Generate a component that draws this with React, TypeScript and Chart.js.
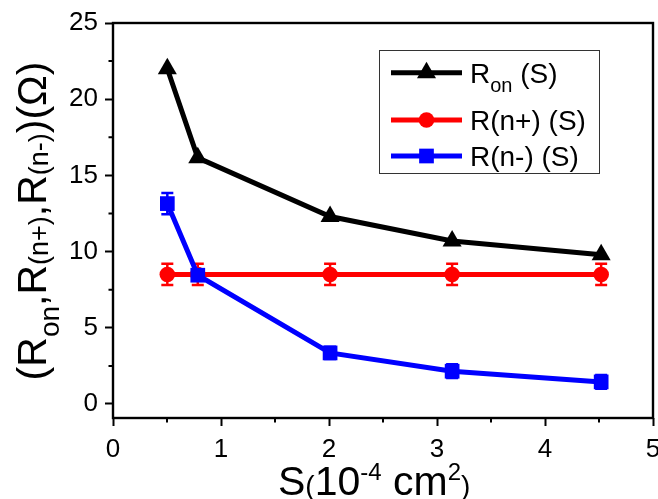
import React, { useEffect, useRef } from "react";
import { Chart, registerables } from "chart.js";

Chart.register(...registerables);

// ---- data ----
const areaValues = [0.503, 0.785, 2.01, 3.14, 4.52];
const ronValues = [22.0, 16.15, 12.3, 10.7, 9.8];
const rnPlusValues = [8.5, 8.5, 8.5, 8.5, 8.5];
const rnPlusErrors = [0.7, 0.7, 0.7, 0.7, 0.7];
const rnMinusValues = [13.15, 8.45, 3.35, 2.15, 1.45];
const rnMinusErrors = [0.7, 0.3, 0.4, 0.45, 0.45];
const xTickValues = [0, 1, 2, 3, 4, 5];
const yTickValues = [0, 5, 10, 15, 20, 25];
const xMinorTickValues = [0.5, 1.5, 2.5, 3.5, 4.5];
const yMinorTickValues = [2.5, 7.5, 12.5, 17.5, 22.5];
const seriesColors = ["#000000", "#ff0000", "#0000ff"];

const FONT = "'Liberation Sans', Arial, sans-serif";

function drawMarker(ctx: CanvasRenderingContext2D, style: string, x: number, y: number, r: number, color: string) {
  ctx.save();
  ctx.fillStyle = color;
  ctx.beginPath();
  if (style === "triangle") {
    let rad = 0;
    ctx.moveTo(x + Math.sin(rad) * r, y - Math.cos(rad) * r);
    rad += (2 * Math.PI) / 3;
    ctx.lineTo(x + Math.sin(rad) * r, y - Math.cos(rad) * r);
    rad += (2 * Math.PI) / 3;
    ctx.lineTo(x + Math.sin(rad) * r, y - Math.cos(rad) * r);
    ctx.closePath();
  } else if (style === "rect") {
    const s = Math.SQRT1_2 * r;
    ctx.rect(x - s, y - s, 2 * s, 2 * s);
  } else {
    ctx.arc(x, y, r, 0, Math.PI * 2);
  }
  ctx.fill();
  ctx.restore();
}

type Seg = { t: string; s: number; dy?: number };

function drawSegments(ctx: CanvasRenderingContext2D, segs: Seg[], x: number, y: number, center: boolean) {
  let total = 0;
  for (const sg of segs) {
    ctx.font = `${sg.s}px ${FONT}`;
    total += ctx.measureText(sg.t).width;
  }
  let cx = center ? x - total / 2 : x;
  ctx.textBaseline = "alphabetic";
  ctx.textAlign = "left";
  for (const sg of segs) {
    ctx.font = `${sg.s}px ${FONT}`;
    ctx.fillText(sg.t, cx, y + (sg.dy || 0));
    cx += ctx.measureText(sg.t).width;
  }
}

const errorBars: Record<number, number[]> = { 1: rnPlusErrors, 2: rnMinusErrors };

const customPlugin = {
  id: "custom",
  afterDatasetDraw(chart: any, args: any) {
    const errs = errorBars[args.index];
    if (!errs) return;
    const ctx = chart.ctx;
    const xs = chart.scales.x;
    const ys = chart.scales.y;
    const ds = chart.data.datasets[args.index];
    ctx.save();
    ctx.strokeStyle = ds.borderColor;
    ctx.lineWidth = 2.5;
    ds.data.forEach((p: any, i: number) => {
      const px = xs.getPixelForValue(p.x);
      const top = ys.getPixelForValue(p.y + errs[i]);
      const bot = ys.getPixelForValue(p.y - errs[i]);
      ctx.beginPath();
      ctx.moveTo(px, top);
      ctx.lineTo(px, bot);
      ctx.moveTo(px - 6, top);
      ctx.lineTo(px + 6, top);
      ctx.moveTo(px - 6, bot);
      ctx.lineTo(px + 6, bot);
      ctx.stroke();
    });
    ctx.restore();
  },
  afterDraw(chart: any) {
    const ctx: CanvasRenderingContext2D = chart.ctx;
    const a = chart.chartArea;
    const xs = chart.scales.x;
    const ys = chart.scales.y;
    ctx.save();
    // frame
    ctx.strokeStyle = "#000";
    ctx.lineWidth = 2.4;
    ctx.strokeRect(a.left, a.top, a.right - a.left, a.bottom - a.top);
    // minor ticks
    ctx.lineWidth = 2;
    ctx.beginPath();
    for (const v of xMinorTickValues) {
      const px = xs.getPixelForValue(v);
      ctx.moveTo(px, a.bottom);
      ctx.lineTo(px, a.bottom + 4.5);
    }
    for (const v of yMinorTickValues) {
      const py = ys.getPixelForValue(v);
      ctx.moveTo(a.left, py);
      ctx.lineTo(a.left - 4.5, py);
    }
    ctx.stroke();

    ctx.fillStyle = "#000";
    // x title
    drawSegments(
      ctx,
      [
        { t: "S", s: 41 },
        { t: "(", s: 28 },
        { t: "10", s: 41 },
        { t: "-4", s: 24, dy: -15 },
        { t: " cm", s: 41 },
        { t: "2", s: 24, dy: -15 },
        { t: ")", s: 28 },
      ],
      278,
      495,
      false
    );
    // y title
    ctx.save();
    ctx.translate(46, 221);
    ctx.rotate(-Math.PI / 2);
    drawSegments(
      ctx,
      [
        { t: "(R", s: 41 },
        { t: "on", s: 28, dy: 13 },
        { t: ",R", s: 41 },
        { t: "(n+)", s: 27, dy: 2 },
        { t: ",R", s: 41 },
        { t: "(n-)", s: 27, dy: 2 },
        { t: ")(\u03A9)", s: 41 },
      ],
      0,
      0,
      true
    );
    ctx.restore();

    // legend
    ctx.fillStyle = "#fff";
    ctx.fillRect(379.5, 50.5, 220, 123);
    ctx.strokeStyle = "#333";
    ctx.lineWidth = 1;
    ctx.strokeRect(379.5, 50.5, 220, 123);
    const rows = [
      { y: 72.7, style: "triangle", r: 11, segs: [{ t: "R", s: 28 }, { t: "on", s: 20, dy: 9 }, { t: " (S)", s: 28 }] },
      { y: 120, style: "circle", r: 7.8, segs: [{ t: "R(n+) (S)", s: 28 }] },
      { y: 156, style: "rect", r: 10.4, segs: [{ t: "R(n-) (S)", s: 28 }] },
    ];
    rows.forEach((row, i) => {
      const color = seriesColors[i];
      ctx.strokeStyle = color;
      ctx.lineWidth = 5;
      ctx.beginPath();
      ctx.moveTo(391, row.y);
      ctx.lineTo(462, row.y);
      ctx.stroke();
      drawMarker(ctx, row.style, 426.5, row.y, row.r, color);
      ctx.fillStyle = "#000";
      drawSegments(ctx, row.segs, 470, row.y + 10, false);
    });
    ctx.restore();
  },
};

export default function App() {
  const ref = useRef<HTMLCanvasElement | null>(null);
  useEffect(() => {
    if (!ref.current) return;
    const mk = (ys: number[]) => ys.map((y, i) => ({ x: areaValues[i], y }));
    const tickFont = { family: FONT, size: 26 };
    const chart = new Chart(ref.current, {
      type: "scatter",
      data: {
        datasets: [
          {
            label: "Ron (S)",
            data: mk(ronValues),
            showLine: true,
            borderColor: seriesColors[0],
            backgroundColor: seriesColors[0],
            borderWidth: 5,
            pointStyle: "triangle",
            pointRadius: 11,
            pointBorderWidth: 0,
            order: 2,
          },
          {
            label: "R(n+) (S)",
            data: mk(rnPlusValues),
            showLine: true,
            borderColor: seriesColors[1],
            backgroundColor: seriesColors[1],
            borderWidth: 5,
            pointStyle: "circle",
            pointRadius: 7.8,
            pointBorderWidth: 0,
            order: 1,
          },
          {
            label: "R(n-) (S)",
            data: mk(rnMinusValues),
            showLine: true,
            borderColor: seriesColors[2],
            backgroundColor: seriesColors[2],
            borderWidth: 5,
            pointStyle: "rect",
            pointRadius: 10.4,
            pointBorderWidth: 0,
            order: 0,
          },
        ],
      },
      options: {
        animation: false,
        responsive: false,
        devicePixelRatio: 1,
        layout: { autoPadding: false, padding: { left: 0, top: 23, right: 5, bottom: 0 } },
        plugins: { legend: { display: false }, tooltip: { enabled: false } },
        scales: {
          x: {
            type: "linear",
            min: 0,
            max: 5,
            afterBuildTicks: (s: any) => {
              s.ticks = xTickValues.map((v) => ({ value: v }));
            },
            afterFit: (s: any) => {
              s.height = 81;
              s.paddingLeft = 0;
              s.paddingRight = 0;
            },
            ticks: { font: tickFont, color: "#000", padding: 8, maxRotation: 0 },
            grid: { drawOnChartArea: false, drawTicks: true, tickLength: 8, tickWidth: 2, tickColor: "#000", color: "#000" },
            border: { display: false },
          },
          y: {
            type: "linear",
            min: -0.92,
            max: 25,
            afterBuildTicks: (s: any) => {
              s.ticks = yTickValues.map((v) => ({ value: v }));
            },
            afterFit: (s: any) => {
              s.width = 113;
              s.paddingTop = 0;
              s.paddingBottom = 0;
            },
            ticks: { font: tickFont, color: "#000", padding: 7 },
            grid: { drawOnChartArea: false, drawTicks: true, tickLength: 8, tickWidth: 2, tickColor: "#000", color: "#000" },
            border: { display: false },
          },
        },
      },
      plugins: [customPlugin],
    } as any);
    return () => chart.destroy();
  }, []);
  return (
    <div style={{ position: "fixed", left: 0, top: 0, width: 658, height: 499, background: "#fff" }}>
      <canvas ref={ref} width={658} height={499} style={{ display: "block", width: 658, height: 499 }} />
    </div>
  );
}
